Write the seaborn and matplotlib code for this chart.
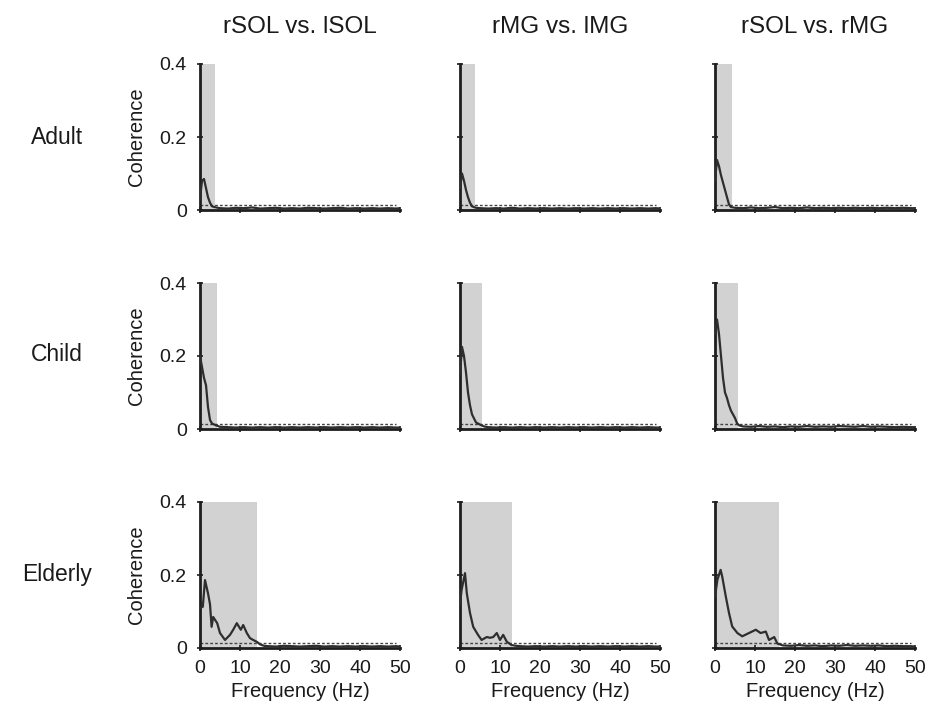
import numpy as np
import pandas as pd
import matplotlib
matplotlib.use("Agg")
import matplotlib.pyplot as plt
import seaborn as sns

# ---------------- data ----------------
columns = ["rSOL vs. lSOL", "rMG vs. lMG", "rSOL vs. rMG"]
rows = ["Adult", "Child", "Elderly"]

# shaded (significant) frequency band per panel [row][col], Hz
band_hi = [[3.8, 3.7, 4.2],
           [4.2, 5.4, 5.7],
           [14.2, 12.9, 16.0]]
conf_limit = 0.015

tail_f = [7, 9, 11, 13, 15, 17, 19, 21, 23, 25, 27, 29, 31, 33, 35, 37, 39, 41, 43, 45, 47, 49, 50]

adult_sol_f = [0, 0.5, 1, 1.5, 2, 2.5, 3, 4, 5] + tail_f
adult_sol_c = [0.03, 0.08, 0.085, 0.06, 0.035, 0.02, 0.01, 0.007, 0.005,
               0.004, 0.006, 0.005, 0.007, 0.004, 0.005, 0.006, 0.004, 0.005, 0.004, 0.006,
               0.005, 0.004, 0.005, 0.006, 0.004, 0.005, 0.004, 0.005, 0.004, 0.005, 0.004, 0.005]

adult_mg_f = [0, 0.5, 1, 1.5, 2, 2.5, 3, 4, 5] + tail_f
adult_mg_c = [0.06, 0.10, 0.08, 0.055, 0.035, 0.02, 0.01, 0.006, 0.005,
              0.004, 0.005, 0.004, 0.006, 0.004, 0.005, 0.004, 0.005, 0.004, 0.005, 0.004,
              0.005, 0.004, 0.005, 0.004, 0.005, 0.004, 0.005, 0.004, 0.005, 0.004, 0.005, 0.004]

adult_smg_f = [0, 0.5, 1, 1.5, 2, 2.5, 3, 3.5, 4, 5] + tail_f
adult_smg_c = [0.08, 0.137, 0.12, 0.095, 0.075, 0.055, 0.035, 0.015, 0.008, 0.006,
               0.005, 0.007, 0.005, 0.006, 0.008, 0.005, 0.006, 0.005, 0.007, 0.005,
               0.006, 0.005, 0.006, 0.005, 0.006, 0.005, 0.006, 0.005, 0.006, 0.005, 0.006, 0.005, 0.005]

child_sol_f = [0, 0.5, 1, 1.5, 2, 2.5, 3, 4, 5] + tail_f
child_sol_c = [0.20, 0.17, 0.14, 0.12, 0.06, 0.025, 0.015, 0.01, 0.006,
               0.005, 0.004, 0.005, 0.004, 0.005, 0.004, 0.005, 0.004, 0.005, 0.004, 0.005,
               0.004, 0.005, 0.004, 0.005, 0.004, 0.005, 0.004, 0.005, 0.004, 0.005, 0.004, 0.004]

child_mg_f = [0, 0.5, 1, 1.5, 2, 2.5, 3, 4, 5, 6] + tail_f
child_mg_c = [0.15, 0.225, 0.2, 0.155, 0.10, 0.065, 0.04, 0.018, 0.012, 0.007,
              0.005, 0.004, 0.005, 0.004, 0.005, 0.004, 0.005, 0.004, 0.005, 0.004,
              0.005, 0.004, 0.005, 0.004, 0.005, 0.004, 0.005, 0.004, 0.005, 0.004, 0.005, 0.004, 0.004]

child_smg_f = [0, 0.5, 1, 1.5, 2, 2.5, 3, 3.5, 4, 4.5, 5, 5.5, 6] + tail_f
child_smg_c = [0.26, 0.30, 0.26, 0.20, 0.14, 0.10, 0.085, 0.065, 0.05, 0.04, 0.03, 0.016, 0.01,
               0.007, 0.006, 0.008, 0.006, 0.007, 0.005, 0.007, 0.006, 0.008, 0.006,
               0.007, 0.006, 0.008, 0.007, 0.006, 0.008, 0.006, 0.007, 0.006, 0.005, 0.006, 0.005, 0.005]

eld_sol_f = [0, 0.7, 1.25, 2, 2.5, 2.9, 3.3, 4.3, 5, 6.25, 7.5, 8.3, 9.2, 10.2, 10.8,
             11.7, 12.5, 13.3, 14.2, 15, 16, 17, 19, 21, 23, 25, 27, 29, 31, 33, 35,
             37, 39, 41, 43, 45, 47, 49, 50]
eld_sol_c = [0.11, 0.113, 0.186, 0.15, 0.12, 0.058, 0.085, 0.068, 0.041, 0.022, 0.036,
             0.05, 0.068, 0.05, 0.063, 0.041, 0.027, 0.022, 0.017, 0.01, 0.006, 0.005,
             0.004, 0.006, 0.005, 0.004, 0.005, 0.006, 0.004, 0.005, 0.004, 0.005, 0.004,
             0.005, 0.004, 0.005, 0.004, 0.005, 0.004]

eld_mg_f = [0, 0.4, 1.25, 1.7, 2.5, 3.3, 4.5, 5.4, 6.7, 7.5, 8.3, 9.2, 10, 10.8, 11.7,
            12.9, 14, 15, 17, 19, 21, 23, 25, 27, 29, 31, 33, 35, 37, 39, 41, 43, 45,
            47, 49, 50]
eld_mg_c = [0.12, 0.159, 0.205, 0.15, 0.096, 0.058, 0.036, 0.022, 0.03, 0.028, 0.03,
            0.041, 0.022, 0.036, 0.017, 0.008, 0.006, 0.005, 0.004, 0.005, 0.004, 0.005,
            0.004, 0.005, 0.004, 0.005, 0.004, 0.005, 0.004, 0.005, 0.004, 0.005, 0.004,
            0.005, 0.004, 0.004]

eld_smg_f = [0, 0.6, 1.4, 1.8, 2.7, 3.5, 4.3, 5.6, 6.8, 8.5, 10.2, 11.4, 12.7, 13.5,
             14.8, 15.6, 17, 19, 21, 23, 25, 27, 29, 31, 33, 35, 37, 39, 41, 43, 45,
             47, 49, 50]
eld_smg_c = [0.14, 0.187, 0.214, 0.196, 0.141, 0.096, 0.059, 0.041, 0.032, 0.041, 0.05,
             0.041, 0.045, 0.022, 0.03, 0.012, 0.007, 0.006, 0.008, 0.006, 0.007, 0.005,
             0.007, 0.006, 0.008, 0.006, 0.007, 0.006, 0.007, 0.005, 0.006, 0.005, 0.005, 0.004]

panels = [[(adult_sol_f, adult_sol_c), (adult_mg_f, adult_mg_c), (adult_smg_f, adult_smg_c)],
          [(child_sol_f, child_sol_c), (child_mg_f, child_mg_c), (child_smg_f, child_smg_c)],
          [(eld_sol_f, eld_sol_c), (eld_mg_f, eld_mg_c), (eld_smg_f, eld_smg_c)]]

x_ticks = [0, 10, 20, 30, 40, 50]
y_ticks = [0, 0.2, 0.4]
y_ticklabels = ["0", "0.2", "0.4"]

# ---------------- style ----------------
sns.set_style("ticks")
plt.rcParams["font.family"] = ["Liberation Sans", "DejaVu Sans"]

W, H = 950, 713
fig = plt.figure(figsize=(9.5, 7.13), dpi=100)

col_left = [200, 460, 715]
axw = 200
row_top = [64, 283, 502]
axh = 146

line_col = "#2e2e2e"
spine_col = "#1e1e1e"
text_col = "#1a1a1a"

for r in range(3):
    for c in range(3):
        ax = fig.add_axes([col_left[c] / W, 1 - (row_top[r] + axh) / H, axw / W, axh / H])
        f, v = panels[r][c]
        df = pd.DataFrame({"Frequency": f, "Coherence": v})
        ax.axvspan(0, band_hi[r][c], ymin=0, ymax=1, color="#d2d2d2", lw=0, zorder=0)
        ax.axhline(conf_limit, xmin=0.0, xmax=0.98, color="#444444", lw=1.0,
                   ls=(0, (2, 1.5)), zorder=1)
        sns.lineplot(data=df, x="Frequency", y="Coherence", ax=ax, color=line_col,
                     lw=1.6, zorder=3)
        ax.set_xlim(0, 50)
        ax.set_ylim(0, 0.4)
        sns.despine(ax=ax)
        for s in ["left", "bottom"]:
            ax.spines[s].set_linewidth(2.0)
            ax.spines[s].set_color(spine_col)
        ax.set_xticks(x_ticks)
        ax.set_yticks(y_ticks)
        ax.tick_params(direction="inout", length=5, width=1.2, color=spine_col,
                       labelsize=14, labelcolor=text_col)
        ax.tick_params(axis="x", pad=6)
        ax.tick_params(axis="y", pad=7)
        if c == 0:
            ax.set_yticklabels(y_ticklabels)
            ax.set_ylabel("Coherence", fontsize=14.5, labelpad=10, color=text_col)
        else:
            ax.set_yticklabels([])
            ax.set_ylabel("")
        if r == 2:
            ax.set_xticklabels([str(t) for t in x_ticks])
            ax.set_xlabel("Frequency (Hz)", fontsize=14.5, labelpad=4, color=text_col)
        else:
            ax.set_xticklabels([])
            ax.set_xlabel("")
        ax.set_facecolor("none")
        if r == 0:
            ax.set_title(columns[c], fontsize=17.5, pad=22, color=text_col)

row_label_y = [137, 354, 574]
for r in range(3):
    fig.text(57 / W, 1 - row_label_y[r] / H, rows[r], fontsize=16.5, ha="center",
             va="center", color=text_col)

fig.savefig("out.png", dpi=100, facecolor="white")
